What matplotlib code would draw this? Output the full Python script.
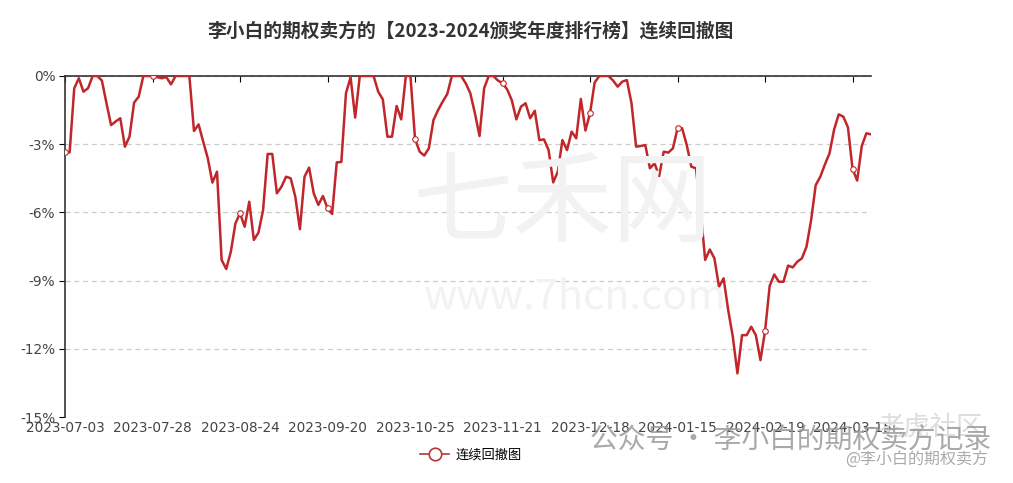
import matplotlib
matplotlib.use("Agg")
import matplotlib.pyplot as plt
from matplotlib.lines import Line2D

plt.rcParams['font.family'] = ['Noto Sans CJK SC', 'DejaVu Sans']

title = "李小白的期权卖方的【2023-2024颁奖年度排行榜】连续回撤图"
series_name = "连续回撤图"

tick_labels = ["2023-07-03", "2023-07-28", "2023-08-24", "2023-09-20", "2023-10-25",
               "2023-11-21", "2023-12-18", "2024-01-15", "2024-02-19", "2024-03-15"]
tick_step = 19

drawdown = [
    -3.36, -3.36, -0.54, -0.10, -0.69, -0.54, 0, 0, -0.20, -1.20,
    -2.16, -2.00, -1.86, -3.11, -2.67, -1.17, -0.91, 0, 0, 0,
    -0.05, -0.10, -0.05, -0.37, 0, 0, 0, 0, -2.42, -2.13,
    -2.89, -3.62, -4.69, -4.21, -8.09, -8.49, -7.73, -6.48, -6.04, -6.63,
    -5.53, -7.21, -6.89, -5.90, -3.43, -3.43, -5.16, -4.87, -4.43, -4.50,
    -5.31, -6.74, -4.43, -4.03, -5.16, -5.67, -5.28, -5.82, -6.07, -3.80,
    -3.78, -0.76, -0.06, -1.83, 0, 0, 0, 0, -0.69, -1.03,
    -2.67, -2.67, -1.32, -1.91, 0, 0, -2.77, -3.33, -3.50, -3.18,
    -1.94, -1.50, -1.13, -0.79, 0, 0, 0, -0.32, -0.76, -1.64,
    -2.64, -0.54, 0, 0, -0.20, -0.32, -0.59, -1.06, -1.91, -1.35,
    -1.20, -1.86, -1.53, -2.82, -2.79, -3.26, -4.68, -4.21, -2.82, -3.26,
    -2.45, -2.74, -1.01, -2.40, -1.64, -0.29, 0, 0, 0, -0.20,
    -0.47, -0.25, -0.18, -1.20, -3.11, -3.08, -3.04, -4.06, -3.84, -4.40,
    -3.33, -3.37, -3.18, -2.30, -2.30, -3.04, -3.99, -4.06, -5.90, -8.09,
    -7.63, -8.02, -9.27, -8.90, -10.30, -11.47, -13.08, -11.40, -11.40, -11.03,
    -11.40, -12.50, -11.22, -9.24, -8.73, -9.05, -9.05, -8.34, -8.42, -8.17,
    -8.02, -7.51, -6.34, -4.80, -4.43, -3.89, -3.40, -2.35, -1.69, -1.79,
    -2.26, -4.09, -4.60, -3.08, -2.52, -2.57,
]
y_ticks = [0, -3, -6, -9, -12, -15]

line_color = "#c0262a"

fig = plt.figure(figsize=(10.13, 4.83), dpi=100)
ax = fig.add_axes([0.0642, 0.1366, 0.7956, 0.7061])

# watermarks
fig.text(0.555, 0.575, "七禾网", fontsize=72, color="#f2f2f2", ha="center", va="center", zorder=0)
fig.text(0.568, 0.385, "www.7hcn.com", fontsize=30, color="#f2f2f2", ha="center", va="center", zorder=0)

x = list(range(len(drawdown)))
ax.plot(x, drawdown, color=line_color, lw=1.8, marker="o", markevery=tick_step,
        markersize=4, markerfacecolor="white", markeredgecolor=line_color,
        markeredgewidth=0.8, zorder=3)

ax.set_xlim(0, len(drawdown) - 1)
ax.set_ylim(-15, 0)
ax.set_yticks(y_ticks)
ax.set_yticklabels([f"{v}%" for v in y_ticks])
ax.set_xticks([i * tick_step for i in range(len(tick_labels))])
ax.set_xticklabels(tick_labels)

ax.patch.set_alpha(0)
for s in ["right", "bottom"]:
    ax.spines[s].set_visible(False)
ax.spines["top"].set_color("#333333")
ax.spines["left"].set_color("#333333")
ax.spines["top"].set_linewidth(1.2)
ax.spines["left"].set_linewidth(1.2)

ax.tick_params(axis="x", bottom=False, top=True, direction="in", length=4,
               labelbottom=True, labeltop=False, labelsize=9.8, pad=3)
ax.tick_params(axis="y", direction="out", length=4, labelsize=9.8, pad=3)
for lab in ax.get_xticklabels() + ax.get_yticklabels():
    lab.set_color("#444444")
    lab.set_family("DejaVu Sans")

ax.yaxis.grid(True, linestyle=(0, (4, 3)), color="#cccccc", lw=0.9)
ax.set_axisbelow(True)

fig.text(0.465, 0.935, title, fontsize=13.5, fontweight="bold", color="#333333",
         ha="center", va="center")

handle = Line2D([0], [0], color="#b33a36", lw=1.2, marker="o", markersize=9,
                markerfacecolor="white", markeredgecolor="#b33a36", markeredgewidth=1.2)
fig.legend([handle], [series_name], loc="center", bbox_to_anchor=(0.465, 0.058),
           frameon=False, fontsize=9.5, handlelength=2.2, handletextpad=0.5)

# social media watermarks
fig.text(0.918, 0.115, "老虎社区", fontsize=19, color="#dddddd", ha="center", va="center")
fig.text(0.78, 0.088, "公众号 · 李小白的期权卖方记录", fontsize=20, color="#9a9a9a",
         ha="center", va="center", alpha=0.85)
fig.text(0.905, 0.048, "@李小白的期权卖方", fontsize=11.5, color="#aaaaaa",
         ha="center", va="center")

fig.savefig("out.png", dpi=100)
